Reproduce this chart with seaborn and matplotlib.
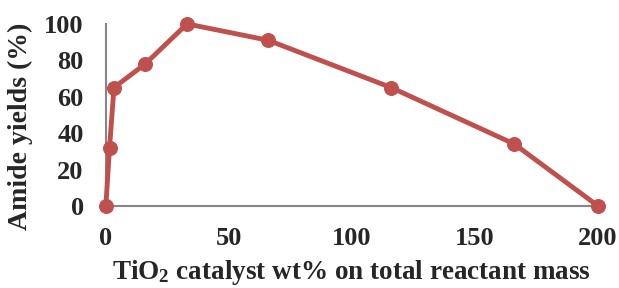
import numpy as np
import pandas as pd
import seaborn as sns
import matplotlib.pyplot as plt

# catalyst loading (wt%) vs amide yield (%)
catalyst_wt = [0, 1.5, 3.3, 16, 33, 66, 116, 166, 200]
amide_yield = [0, 32, 65, 78, 100, 91, 65, 34, 0]
x_ticks = [0, 50, 100, 150, 200]
y_ticks = [0, 20, 40, 60, 80, 100]

df = pd.DataFrame({'wt': catalyst_wt, 'yield': amide_yield})

sns.set_style("white")
plt.rcParams['font.family'] = ['Liberation Serif', 'DejaVu Serif']
plt.rcParams['font.weight'] = 'bold'
plt.rcParams['mathtext.fontset'] = 'custom'
plt.rcParams['mathtext.rm'] = 'Liberation Serif:bold'
plt.rcParams['mathtext.bf'] = 'Liberation Serif:bold'
plt.rcParams['mathtext.default'] = 'bf'

fig, ax = plt.subplots(figsize=(6.19, 2.88), dpi=100)
fig.subplots_adjust(left=0.171, right=0.966, bottom=0.285, top=0.917)

red = '#C0504D'
sns.lineplot(ax=ax, data=df, x='wt', y='yield', color=red, linewidth=3.5,
             marker='o', markersize=10, markeredgecolor=red, clip_on=False)

ax.set_xlim(0, 200)
ax.set_ylim(0, 100)
ax.set_xticks(x_ticks)
ax.set_yticks(y_ticks)
ax.tick_params(length=0, labelsize=19)
ax.tick_params(axis='y', pad=16)
ax.tick_params(axis='x', pad=15)
for lbl in ax.get_xticklabels() + ax.get_yticklabels():
    lbl.set_fontweight('bold')

ax.spines['right'].set_visible(False)
ax.spines['top'].set_visible(False)
for s in ['left', 'bottom']:
    ax.spines[s].set_color('#868686')
    ax.spines[s].set_linewidth(1.5)
    ax.spines[s].set_zorder(0)

ax.set_xlabel(r'TiO$_2$ catalyst wt% on total reactant mass', fontsize=19.5, fontweight='bold', labelpad=6)
ax.set_ylabel('Amide yields (%)', fontsize=20, fontweight='bold')
ax.yaxis.set_label_coords(-0.148, 0.44)

plt.savefig('out.png', dpi=100)
